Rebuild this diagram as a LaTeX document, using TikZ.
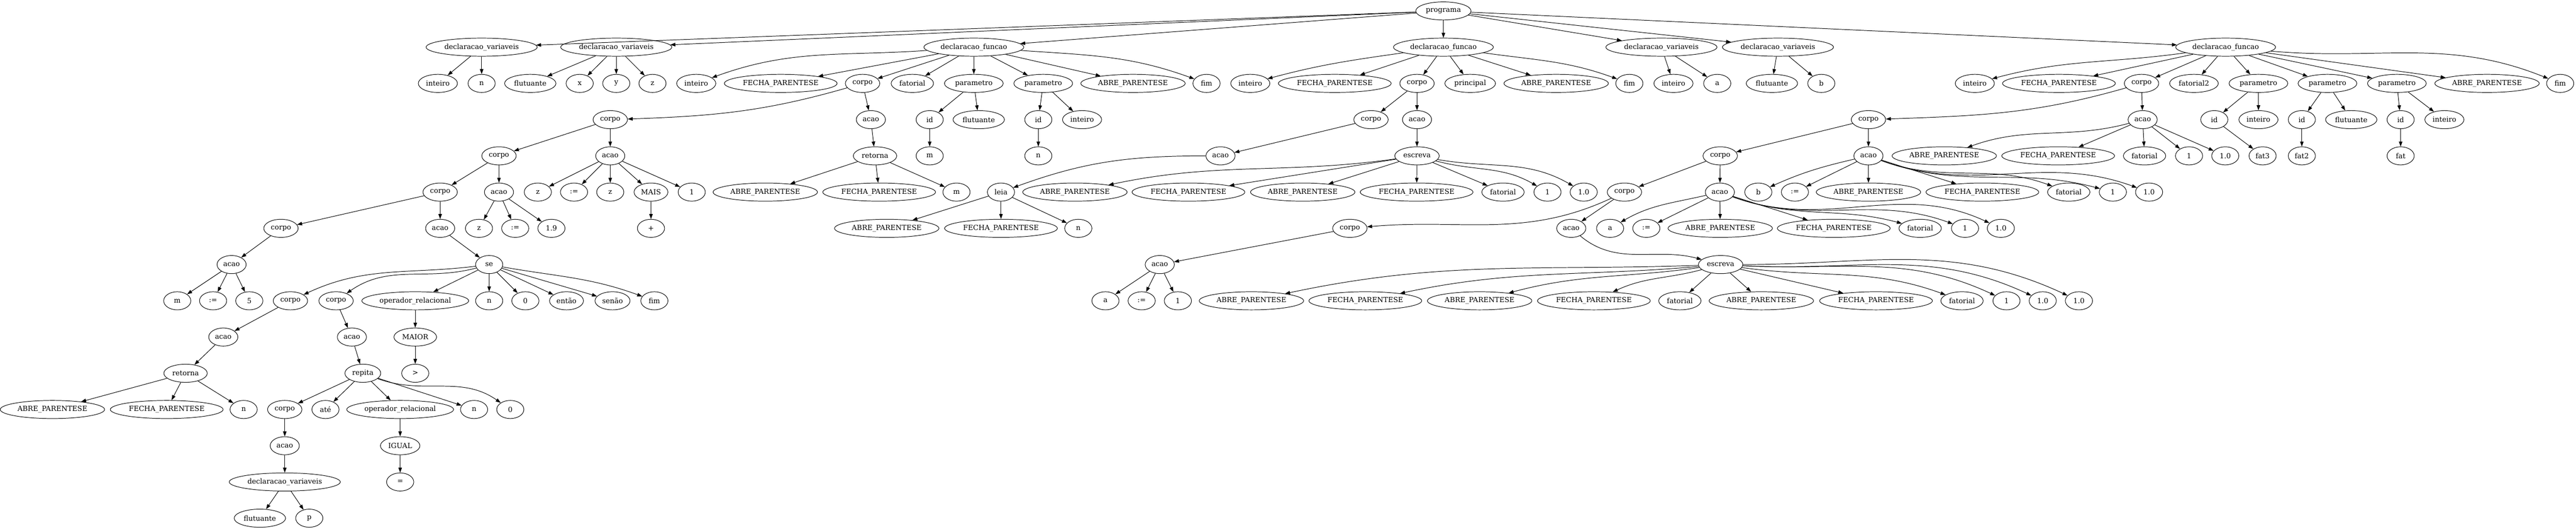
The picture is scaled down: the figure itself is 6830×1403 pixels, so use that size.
\documentclass[tikz,border=0pt]{standalone}
\usepackage{fontspec}
\setmainfont{DejaVu Serif}
\usepackage{tikz}
\usetikzlibrary{arrows.meta}
\usetikzlibrary{shapes.geometric}

\begin{document}
\begin{tikzpicture}[x=0.75pt, y=0.75pt,
    tnode/.style={draw, ellipse, line width=1pt, minimum width=54pt, minimum height=36pt,
      inner xsep=4pt, inner ysep=1pt, font=\fontsize{14}{16}\selectfont},
    tlink/.style={line width=1pt, -{Triangle[length=10pt, width=7pt]}}]
  \useasboundingbox (0,0) rectangle (6830,1403);
  % root
  \node[tnode] (prog) at (3827,1374) {programa};
  % variable declarations
  \node[tnode] (dva) at (1277,1278) {declaracao\_variaveis};
  \node[tnode] (dvaT) at (1161,1182) {inteiro};
  \node[tnode] (dvaN) at (1277,1182) {n};
  \node[tnode] (dvb) at (1634,1278) {declaracao\_variaveis};
  \node[tnode] (dvbT) at (1406,1182) {flutuante};
  \node[tnode] (dvbX) at (1537,1182) {x};
  \node[tnode] (dvbY) at (1634,1182) {y};
  \node[tnode] (dvbZ) at (1730,1182) {z};
  \node[tnode] (dvc) at (4405,1278) {declaracao\_variaveis};
  \node[tnode] (dvcT) at (4437,1182) {inteiro};
  \node[tnode] (dvcA) at (4553,1182) {a};
  \node[tnode] (dvd) at (4714,1278) {declaracao\_variaveis};
  \node[tnode] (dvdT) at (4698,1182) {flutuante};
  \node[tnode] (dvdB) at (4829,1182) {b};
  % function fatorial
  \node[tnode] (dfa) at (2582,1278) {declaracao\_funcao};
  \node[tnode] (faT) at (1846,1182) {inteiro};
  \node[tnode] (faF) at (2070,1182) {FECHA\_PARENTESE};
  \node[tnode] (faC) at (2287,1182) {corpo};
  \node[tnode] (faN) at (2419,1182) {fatorial};
  \node[tnode] (faP) at (2582,1182) {parametro};
  \node[tnode] (faQ) at (2766,1182) {parametro};
  \node[tnode] (faA) at (3004,1182) {ABRE\_PARENTESE};
  \node[tnode] (faE) at (3199,1182) {fim};
  \node[tnode] (faPi) at (2465,1086) {id};
  \node[tnode] (faPt) at (2595,1086) {flutuante};
  \node[tnode] (faPm) at (2465,990) {m};
  \node[tnode] (faQi) at (2753,1086) {id};
  \node[tnode] (faQt) at (2869,1086) {inteiro};
  \node[tnode] (faQn) at (2753,990) {n};
  \node[tnode] (c1) at (1618,1086) {corpo};
  \node[tnode] (a1) at (2309,1086) {acao};
  \node[tnode] (r1) at (2320,990) {retorna};
  \node[tnode] (r1A) at (2029,894) {ABRE\_PARENTESE};
  \node[tnode] (r1F) at (2331,894) {FECHA\_PARENTESE};
  \node[tnode] (r1m) at (2536,894) {m};
  \node[tnode] (c2) at (1323,990) {corpo};
  \node[tnode] (a2) at (1618,990) {acao};
  \node[tnode] (a2z) at (1426,894) {z};
  \node[tnode] (a2s) at (1522,894) {:=};
  \node[tnode] (a2y) at (1618,894) {z};
  \node[tnode] (a2p) at (1726,894) {MAIS};
  \node[tnode] (a2u) at (1834,894) {1};
  \node[tnode] (a2q) at (1726,798) {+};
  \node[tnode] (c3) at (1167,894) {corpo};
  \node[tnode] (a3) at (1323,894) {acao};
  \node[tnode] (a3z) at (1270,798) {z};
  \node[tnode] (a3s) at (1366,798) {:=};
  \node[tnode] (a3v) at (1462,798) {1.9};
  \node[tnode] (c4) at (745,798) {corpo};
  \node[tnode] (a4) at (1167,798) {acao};
  \node[tnode] (a5) at (614,702) {acao};
  \node[tnode] (a5m) at (470,606) {m};
  \node[tnode] (a5s) at (565,606) {:=};
  \node[tnode] (a5v) at (661,606) {5};
  % se block
  \node[tnode] (se) at (1297,702) {se};
  \node[tnode] (sc1) at (770,606) {corpo};
  \node[tnode] (sc2) at (891,606) {corpo};
  \node[tnode] (sop) at (1101,606) {operador\_relacional};
  \node[tnode] (sn) at (1297,606) {n};
  \node[tnode] (s0) at (1393,606) {0};
  \node[tnode] (sen) at (1502,606) {então};
  \node[tnode] (sse) at (1624,606) {senão};
  \node[tnode] (sfim) at (1735,606) {fim};
  \node[tnode] (smaior) at (1101,510) {MAIOR};
  \node[tnode] (sgt) at (1101,414) {>};
  \node[tnode] (sa1) at (592,510) {acao};
  \node[tnode] (sr) at (492,414) {retorna};
  \node[tnode] (srA) at (139,318) {ABRE\_PARENTESE};
  \node[tnode] (srF) at (442,318) {FECHA\_PARENTESE};
  \node[tnode] (srn) at (646,318) {n};
  \node[tnode] (sa2) at (933,510) {acao};
  \node[tnode] (rep) at (962,414) {repita};
  \node[tnode] (rc) at (755,318) {corpo};
  \node[tnode] (rat) at (863,318) {até};
  \node[tnode] (rop) at (1061,318) {operador\_relacional};
  \node[tnode] (rn) at (1257,318) {n};
  \node[tnode] (r0) at (1353,318) {0};
  \node[tnode] (ra) at (755,222) {acao};
  \node[tnode] (rdv) at (755,126) {declaracao\_variaveis};
  \node[tnode] (rdvT) at (689,30) {flutuante};
  \node[tnode] (rdvP) at (820,30) {p};
  \node[tnode] (rig) at (1061,222) {IGUAL};
  \node[tnode] (req) at (1061,126) {=};
  % function principal
  \node[tnode] (dfb) at (3827,1278) {declaracao\_funcao};
  \node[tnode] (fbT) at (3315,1182) {inteiro};
  \node[tnode] (fbF) at (3539,1182) {FECHA\_PARENTESE};
  \node[tnode] (fbC) at (3757,1182) {corpo};
  \node[tnode] (fbP) at (3898,1182) {principal};
  \node[tnode] (fbA) at (4126,1182) {ABRE\_PARENTESE};
  \node[tnode] (fbE) at (4320,1182) {fim};
  \node[tnode] (bc1) at (3635,1086) {corpo};
  \node[tnode] (ba1) at (3757,1086) {acao};
  \node[tnode] (ba2) at (3236,990) {acao};
  \node[tnode] (leia) at (2654,894) {leia};
  \node[tnode] (lA) at (2351,798) {ABRE\_PARENTESE};
  \node[tnode] (lF) at (2654,798) {FECHA\_PARENTESE};
  \node[tnode] (ln) at (2859,798) {n};
  \node[tnode] (esc1) at (3757,990) {escreva};
  \node[tnode] (e1a) at (2850,894) {ABRE\_PARENTESE};
  \node[tnode] (e1b) at (3151,894) {FECHA\_PARENTESE};
  \node[tnode] (e1c) at (3454,894) {ABRE\_PARENTESE};
  \node[tnode] (e1d) at (3756,894) {FECHA\_PARENTESE};
  \node[tnode] (e1e) at (3985,894) {fatorial};
  \node[tnode] (e1f) at (4103,894) {1};
  \node[tnode] (e1g) at (4199,894) {1.0};
  % function fatorial2
  \node[tnode] (dfc) at (5901,1278) {declaracao\_funcao};
  \node[tnode] (fcT) at (5236,1182) {inteiro};
  \node[tnode] (fcF) at (5459,1182) {FECHA\_PARENTESE};
  \node[tnode] (fcC) at (5678,1182) {corpo};
  \node[tnode] (fcN) at (5817,1182) {fatorial2};
  \node[tnode] (fcP) at (5988,1182) {parametro};
  \node[tnode] (fcQ) at (6171,1182) {parametro};
  \node[tnode] (fcR) at (6355,1182) {parametro};
  \node[tnode] (fcA) at (6594,1182) {ABRE\_PARENTESE};
  \node[tnode] (fcE) at (6788,1182) {fim};
  \node[tnode] (fcPi) at (5871,1086) {id};
  \node[tnode] (fcPt) at (5988,1086) {inteiro};
  \node[tnode] (fcPf) at (5999,990) {fat3};
  \node[tnode] (fcQi) at (6103,1086) {id};
  \node[tnode] (fcQt) at (6234,1086) {flutuante};
  \node[tnode] (fcQf) at (6103,990) {fat2};
  \node[tnode] (fcRi) at (6365,1086) {id};
  \node[tnode] (fcRt) at (6481,1086) {inteiro};
  \node[tnode] (fcRf) at (6365,990) {fat};
  \node[tnode] (cc1) at (4954,1086) {corpo};
  \node[tnode] (ca1) at (5681,1086) {acao};
  \node[tnode] (ca1A) at (5155,990) {ABRE\_PARENTESE};
  \node[tnode] (ca1F) at (5457,990) {FECHA\_PARENTESE};
  \node[tnode] (ca1n) at (5686,990) {fatorial};
  \node[tnode] (ca1u) at (5804,990) {1};
  \node[tnode] (ca1v) at (5900,990) {1.0};
  \node[tnode] (cc2) at (4561,990) {corpo};
  \node[tnode] (ca2) at (4954,990) {acao};
  \node[tnode] (ca2b) at (4662,894) {b};
  \node[tnode] (ca2s) at (4759,894) {:=};
  \node[tnode] (ca2A) at (4954,894) {ABRE\_PARENTESE};
  \node[tnode] (ca2F) at (5256,894) {FECHA\_PARENTESE};
  \node[tnode] (ca2n) at (5485,894) {fatorial};
  \node[tnode] (ca2u) at (5602,894) {1};
  \node[tnode] (ca2v) at (5698,894) {1.0};
  \node[tnode] (cc3) at (4307,894) {corpo};
  \node[tnode] (ca3) at (4560,894) {acao};
  \node[tnode] (ca3a) at (4269,798) {a};
  \node[tnode] (ca3s) at (4365,798) {:=};
  \node[tnode] (ca3A) at (4561,798) {ABRE\_PARENTESE};
  \node[tnode] (ca3F) at (4862,798) {FECHA\_PARENTESE};
  \node[tnode] (ca3n) at (5091,798) {fatorial};
  \node[tnode] (ca3u) at (5210,798) {1};
  \node[tnode] (ca3v) at (5305,798) {1.0};
  \node[tnode] (cc4) at (3579,798) {corpo};
  \node[tnode] (ca4) at (4166,798) {acao};
  \node[tnode] (ca5) at (3075,702) {acao};
  \node[tnode] (ca5a) at (2931,606) {a};
  \node[tnode] (ca5s) at (3027,606) {:=};
  \node[tnode] (ca5u) at (3123,606) {1};
  \node[tnode] (esc2) at (4562,702) {escreva};
  \node[tnode] (e2a) at (3318,606) {ABRE\_PARENTESE};
  \node[tnode] (e2b) at (3620,606) {FECHA\_PARENTESE};
  \node[tnode] (e2c) at (3923,606) {ABRE\_PARENTESE};
  \node[tnode] (e2d) at (4226,606) {FECHA\_PARENTESE};
  \node[tnode] (e2e) at (4454,606) {fatorial};
  \node[tnode] (e2f) at (4670,606) {ABRE\_PARENTESE};
  \node[tnode] (e2g) at (4974,606) {FECHA\_PARENTESE};
  \node[tnode] (e2h) at (5202,606) {fatorial};
  \node[tnode] (e2i) at (5320,606) {1};
  \node[tnode] (e2j) at (5416,606) {1.0};
  \node[tnode] (e2k) at (5512,606) {1.0};
  % straight links
  \foreach \a/\b in {prog/dva, prog/dvb, prog/dfa, prog/dfb, prog/dvc, prog/dvd, prog/dfc,
      dva/dvaT, dva/dvaN, dvb/dvbT, dvb/dvbX, dvb/dvbY, dvb/dvbZ,
      dvc/dvcT, dvc/dvcA, dvd/dvdT, dvd/dvdB,
      dfa/faF, dfa/faC, dfa/faN, dfa/faP, dfa/faQ, dfa/faA,
      faP/faPi, faP/faPt, faPi/faPm, faQ/faQi, faQ/faQt, faQi/faQn,
      faC/a1, a1/r1, r1/r1A, r1/r1F, r1/r1m,
      c1/c2, c1/a2, a2/a2z, a2/a2s, a2/a2y, a2/a2p, a2/a2u, a2p/a2q,
      c2/c3, c2/a3, a3/a3z, a3/a3s, a3/a3v,
      c3/c4, c3/a4, c4/a5, a5/a5m, a5/a5s, a5/a5v, a4/se,
      se/sop, se/sn, se/s0, se/sen, se/sse, sop/smaior, smaior/sgt,
      sc1/sa1, sa1/sr, sr/srA, sr/srF, sr/srn,
      sc2/sa2, sa2/rep, rep/rc, rep/rat, rep/rop, rep/rn,
      rc/ra, ra/rdv, rdv/rdvT, rdv/rdvP, rop/rig, rig/req,
      dfb/fbF, dfb/fbC, dfb/fbP, dfb/fbA,
      fbC/bc1, fbC/ba1, bc1/ba2, leia/lA, leia/lF, leia/ln,
      ba1/esc1, esc1/e1b, esc1/e1c, esc1/e1d, esc1/e1e,
      dfc/fcF, dfc/fcC, dfc/fcN, dfc/fcP, dfc/fcQ, dfc/fcR, dfc/fcA,
      fcP/fcPi, fcP/fcPt, fcPi/fcPf, fcQ/fcQi, fcQ/fcQt, fcQi/fcQf,
      fcR/fcRi, fcR/fcRt, fcRi/fcRf,
      fcC/ca1, ca1/ca1F, ca1/ca1n, ca1/ca1u, ca1/ca1v,
      cc1/cc2, cc1/ca2, ca2/ca2s, ca2/ca2A, ca2/ca2F,
      cc2/cc3, cc2/ca3, ca3/ca3s, ca3/ca3A, ca3/ca3F,
      cc3/ca4, cc4/ca5, ca5/ca5a, ca5/ca5s, ca5/ca5u,
      esc2/e2e, esc2/e2f, esc2/e2g}
    \draw[tlink] (\a) -- (\b);
  % curved links
  \foreach \a/\b/\o/\i in {dfa/faT/184/20, dfa/faE/356/160, faC/c1/196/2,
      se/sc1/187/25, se/sc2/195/35, se/sfim/350/160, rep/r0/340/145,
      dfb/fbT/188/15, dfb/fbE/352/160, ba2/leia/180/20,
      esc1/e1a/188/12, esc1/e1f/345/150, esc1/e1g/350/150,
      dfc/fcT/188/15, dfc/fcE/355/158, fcC/cc1/196/2, ca1/ca1A/195/20,
      ca2/ca2b/193/24, ca2/ca2n/340/160, ca2/ca2u/340/165, ca2/ca2v/340/160,
      ca3/ca3a/193/30, ca3/ca3n/340/165, ca3/ca3u/340/160, ca3/ca3v/340/155,
      cc3/cc4/205/5, ca4/esc2/320/165,
      esc2/e2a/182/12, esc2/e2b/185/12, esc2/e2c/188/15, esc2/e2d/195/25,
      esc2/e2h/352/160, esc2/e2i/357/155, esc2/e2j/357/155, esc2/e2k/0/155}
    \draw[tlink] (\a) to[out=\o, in=\i] (\b);
\end{tikzpicture}
\end{document}
